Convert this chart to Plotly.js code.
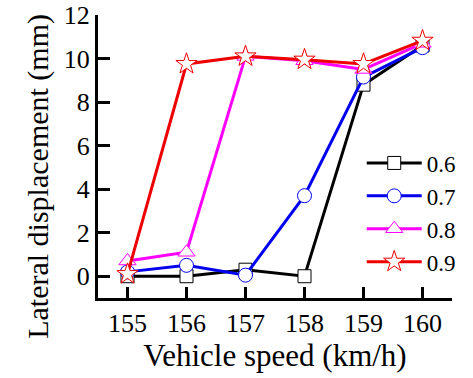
<!DOCTYPE html>
<html>
<head>
<meta charset="utf-8">
<script src="https://cdn.plot.ly/plotly-3.0.1.min.js"></script>
<style>html,body{margin:0;padding:0;background:#fff;}#chart{width:473px;height:378px;}</style>
</head>
<body>
<div id="chart"></div>
<script>
const speeds = [155, 156, 157, 158, 159, 160];
const series06 = [0, 0, 0.3, 0, 8.8, 10.6];
const series07 = [0.2, 0.5, 0.05, 3.7, 9.15, 10.5];
const series08 = [0.7, 1.1, 10.1, 9.9, 9.5, 10.7];
const series09 = [0.1, 9.75, 10.1, 9.95, 9.75, 10.82];
const names = ['0.6', '0.7', '0.8', '0.9'];
const xTicks = [155, 156, 157, 158, 159, 160];
const yTicks = [0, 2, 4, 6, 8, 10, 12];
const xTitle = 'Vehicle speed (km/h)';
const yTitle = 'Lateral displacement (mm)';

const colors = ['#000000', '#0000ee', '#ff00ff', '#ee0000'];
const symbols = ['square', 'circle', 'triangle-up', 'star'];
const sizes = [13, 14, 15, 16];
const allSeries = [series06, series07, series08, series09];

const traces = allSeries.map((ys, i) => ({
  x: speeds, y: ys, name: names[i], type: 'scatter', mode: 'lines+markers',
  line: {color: colors[i], width: 3},
  marker: {symbol: symbols[i], size: sizes[i], color: '#ffffff', line: {color: colors[i], width: 1}}
}));

function mkFont(s) { return {family: '"Liberation Serif", "Times New Roman", serif', size: s || 26, color: '#000000'}; }

const layout = {
  width: 473, height: 378,
  margin: {l: 98, r: 21, t: 15, b: 80},
  paper_bgcolor: '#fff', plot_bgcolor: '#fff',
  font: mkFont(),
  showlegend: true,
  legend: {x: 0.745, y: 0.553, xanchor: 'left', yanchor: 'top', bgcolor: 'rgba(0,0,0,0)', font: mkFont(23), tracegroupgap: 0, itemwidth: 55},
  xaxis: {
    range: [154.5, 160.5], tickvals: xTicks, ticktext: xTicks.map(String),
    showline: true, linecolor: '#000', linewidth: 3, mirror: false,
    ticks: 'inside', ticklen: 11, tickwidth: 3, tickcolor: '#000',
    showgrid: false, zeroline: false, tickfont: mkFont(26),
    title: {text: xTitle, font: mkFont(31), standoff: 0}
  },
  yaxis: {
    range: [-1, 12], tickvals: yTicks, ticktext: yTicks.map(String),
    showline: true, linecolor: '#000', linewidth: 3, mirror: false,
    ticks: 'inside', ticklen: 12, tickwidth: 3, tickcolor: '#000',
    showgrid: false, zeroline: false, tickfont: mkFont(26)
  },
  annotations: [{
    text: yTitle, xref: 'paper', yref: 'paper', x: -0.17, y: 0.431,
    xanchor: 'center', yanchor: 'middle', textangle: -90, showarrow: false, font: mkFont(30)
  }]
};

Plotly.newPlot('chart', traces, layout, {displayModeBar: false, staticPlot: true});
</script>
</body>
</html>
